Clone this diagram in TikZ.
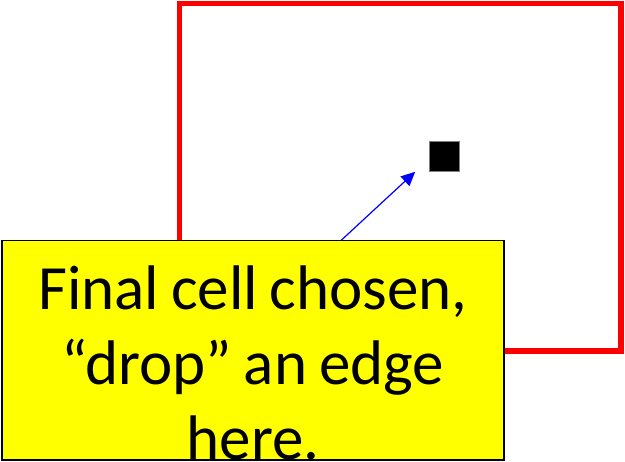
\documentclass[tikz,border=0pt]{standalone}
\usepackage{fontspec}
\setmainfont{Carlito}
\usepackage{xcolor}
\usepackage{tikz}
\usetikzlibrary{positioning,calc,arrows.meta}
\definecolor{RegRed}{RGB}{255,0,0}
\definecolor{NoteYellow}{RGB}{255,255,0}
\definecolor{PtrBlue}{RGB}{0,0,255}
\newcommand{\tightsp}{\spaceskip=0.19em\relax}

\begin{document}
\begin{tikzpicture}[x=1pt, y=-1pt]
	\tikzset{
		reg/.style={rectangle, draw=RegRed, line width=5.5pt, anchor=north west, outer sep=0pt,
			minimum width=441.5pt, minimum height=347.5pt, inner sep=0pt},
		nbox/.style={rectangle, draw=black, line width=1.5pt, fill=NoteYellow, anchor=north west, outer sep=0pt,
			minimum width=502pt, minimum height=219.5pt, inner sep=0pt},
		dot/.style={rectangle, draw=gray, line width=0.6pt, fill=black,
			minimum size=30pt, inner sep=0pt},
		ptr/.style={draw=PtrBlue, line width=1.2pt, -{Triangle[length=14pt,width=13pt]}},
		txt/.style={text width=480pt, align=center, inner sep=0pt, anchor=base,
			font=\fontsize{63}{75}\selectfont}
	}
	\useasboundingbox (0,0) rectangle (625,462);
	
	\node[reg] (region) at (179.5,3.5) {};
	\node[dot] (cell) at (444.5,156.5) {};
	
	% callout
	\node[nbox] (note) at (2,240.5) {};
	\node[txt] (label) at (253,310) {\tightsp Final cell chosen,\\ “drop” an edge\\ here.};
	
	\coordinate (tail) at (341,240.5);
	\coordinate (drop) at ($(cell.south west)+(-14,0)$);
	\draw[ptr] (tail) -- (drop);
\end{tikzpicture}
\end{document}
